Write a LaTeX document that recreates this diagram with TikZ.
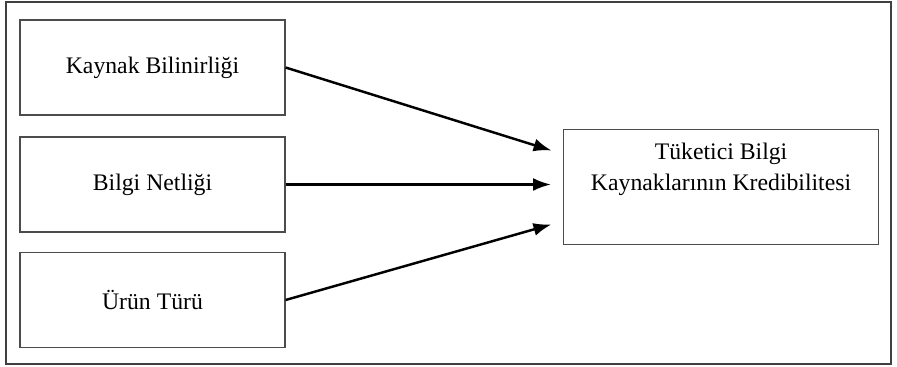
\documentclass[tikz,border=0pt]{standalone}
\usepackage{fontspec}
\setmainfont{Liberation Serif}
\usetikzlibrary{positioning, arrows.meta, calc}

\begin{document}
\begin{tikzpicture}[x=0.02cm, y=-0.02cm, >={Latex[length=3.6mm, width=2.6mm]},
    factor/.style={draw=black!70, line width=0.7pt, minimum width=5.3cm,
                   minimum height=1.9cm, font=\fontsize{13.5}{16}\selectfont},
    link/.style={->, line width=1.4pt, shorten >=2.4mm}]
    \useasboundingbox (0,0) rectangle (897,366);
    \node[draw=black!75, line width=0.7pt, minimum width=17.7cm,
          minimum height=7.24cm] (frame) at (448.5,183) {};
    \node[factor] (kb) at (152.5,67.5) {Kaynak Bilinirliği};
    \node[factor] (bn) at (152.5,184.5) {Bilgi Netliği};
    \node[factor] (ut) at (152.5,300) {Ürün Türü};
    % text sits in the upper part of the box
    \node[factor, inner sep=0pt, anchor=north west] (tk) at (563,129)
          {\begin{minipage}[t][2.3cm][t]{6.3cm}\centering
           \fontsize{13.5}{17.5}\selectfont
           \vspace{0.27cm}Tüketici Bilgi\\Kaynaklarının Kredibilitesi
           \end{minipage}};
    \coordinate (in1) at ($(tk.west)+(0,-33)$);
    \coordinate (in3) at ($(tk.west)+(0,34)$);
    \draw[link] (kb.east) -- (in1);
    \draw[link] (bn.east) -- (tk.west |- bn.east);
    \draw[link] (ut.east) -- (in3);
\end{tikzpicture}
\end{document}
